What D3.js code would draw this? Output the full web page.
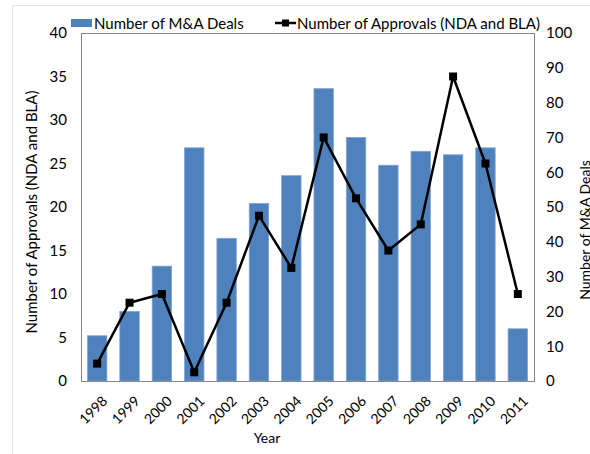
<!DOCTYPE html>
<head>
    <meta charset="utf-8">
    <script src="https://d3js.org/d3.v7.min.js"></script>
    <style>
        body { margin: 0; background: #fff; }
        text { font-family: Lato, "Open Sans", sans-serif; fill: #000; }
    </style>
</head>
<body>
    <script>
        ////////////// Data //////////////
        const years = ["1998", "1999", "2000", "2001", "2002", "2003", "2004",
                       "2005", "2006", "2007", "2008", "2009", "2010", "2011"]
        const deals = [13, 20, 33, 67, 41, 51, 59, 84, 70, 62, 66, 65, 67, 15]
        const approvals = [2, 9, 10, 1, 9, 19, 13, 28, 21, 15, 18, 35, 25, 10]
        const leftTicks = [0, 5, 10, 15, 20, 25, 30, 35, 40]
        const rightTicks = [0, 10, 20, 30, 40, 50, 60, 70, 80, 90, 100]

        let width = 590,
            height = 454

        let svg = d3.select("body")
            .append("svg")
            .attr("width", width)
            .attr("height", height)

        //light outer frame
        svg.append("rect")
            .attr("x", 12.5).attr("y", 5.5)
            .attr("width", 600).attr("height", 500)
            .style("fill", "none")
            .style("stroke", "#e4e4e4")

        const plotLeft = 81, plotRight = 534, plotTop = 33, plotBottom = 381

        ////////////// Scales //////////////
        const x_scale = d3.scaleBand()
            .domain(years)
            .range([plotLeft, plotRight])
            .paddingInner(0.4)
            .paddingOuter(0.2)

        const y_left = d3.scaleLinear().domain([0, 40]).range([plotBottom, plotTop])
        const y_right = d3.scaleLinear().domain([0, 100]).range([plotBottom, plotTop])

        ////////////// Bars //////////////
        svg.append("g").selectAll("rect")
            .data(deals)
            .enter().append("rect")
            .attr("x", (d, i) => x_scale(years[i]))
            .attr("y", d => y_right(d))
            .attr("width", x_scale.bandwidth())
            .attr("height", d => plotBottom - y_right(d))
            .style("fill", "#4f81bd")
            .style("stroke", "#7fa3d1")
            .style("stroke-width", 0.8)

        ////////////// Plot frame //////////////
        svg.append("rect")
            .attr("x", plotLeft + 0.5).attr("y", plotTop + 0.5)
            .attr("width", plotRight - plotLeft).attr("height", plotBottom - plotTop)
            .style("fill", "none")
            .style("stroke", "#868686")

        ////////////// Line //////////////
        const cx = i => x_scale(years[i]) + x_scale.bandwidth() / 2
        const line = d3.line()
            .x((d, i) => cx(i))
            .y(d => y_left(d))

        svg.append("path")
            .datum(approvals)
            .attr("d", line)
            .style("fill", "none")
            .style("stroke", "#000")
            .style("stroke-width", 2.5)
            .style("stroke-linejoin", "round")

        svg.append("g").selectAll("rect")
            .data(approvals)
            .enter().append("rect")
            .attr("x", (d, i) => cx(i) - 4)
            .attr("y", d => y_left(d) - 4)
            .attr("width", 8)
            .attr("height", 8)
            .style("fill", "#000")

        ////////////// Axes //////////////
        const leftAxis = d3.axisLeft(y_left).tickValues(leftTicks).tickSize(0).tickPadding(14)
        const gl = svg.append("g").attr("transform", `translate(${plotLeft},0)`).call(leftAxis)
        gl.select(".domain").remove()
        gl.selectAll("text").style("font-size", "15px")

        const rightAxis = d3.axisRight(y_right).tickValues(rightTicks).tickSize(0).tickPadding(12)
        const gr = svg.append("g").attr("transform", `translate(${plotRight},0)`).call(rightAxis)
        gr.select(".domain").remove()
        gr.selectAll("text").style("font-size", "15px")

        const bottomAxis = d3.axisBottom(x_scale).tickSize(0).tickPadding(8)
        const gb = svg.append("g").attr("transform", `translate(0,${plotBottom})`).call(bottomAxis)
        gb.select(".domain").remove()
        gb.selectAll("text")
            .style("font-size", "14px")
            .attr("text-anchor", "end")
            .attr("dy", "0.35em")
            .attr("transform", "translate(2,12) rotate(-45)")

        ////////////// Axis titles //////////////
        svg.append("text")
            .attr("transform", "translate(37,212) rotate(-90)")
            .attr("text-anchor", "middle")
            .style("font-size", "15px")
            .text("Number of Approvals (NDA and BLA)")

        svg.append("text")
            .attr("transform", "translate(590,230) rotate(-90)")
            .attr("text-anchor", "middle")
            .style("font-size", "14px")
            .text("Number of M&A Deals")

        svg.append("text")
            .attr("x", 267).attr("y", 443)
            .attr("text-anchor", "middle")
            .style("font-size", "14px")
            .text("Year")

        ////////////// Legend //////////////
        svg.append("rect")
            .attr("x", 71).attr("y", 19)
            .attr("width", 21).attr("height", 8)
            .style("fill", "#4f81bd")
        svg.append("text")
            .attr("x", 94).attr("y", 29)
            .style("font-size", "15px")
            .text("Number of M&A Deals")

        svg.append("line")
            .attr("x1", 275).attr("x2", 296)
            .attr("y1", 23).attr("y2", 23)
            .style("stroke", "#000")
            .style("stroke-width", 2.5)
        svg.append("rect")
            .attr("x", 282).attr("y", 19.5)
            .attr("width", 7).attr("height", 7)
            .style("fill", "#000")
        svg.append("text")
            .attr("x", 297).attr("y", 29)
            .style("font-size", "15px")
            .text("Number of Approvals (NDA and BLA)")
    </script>
</body>
